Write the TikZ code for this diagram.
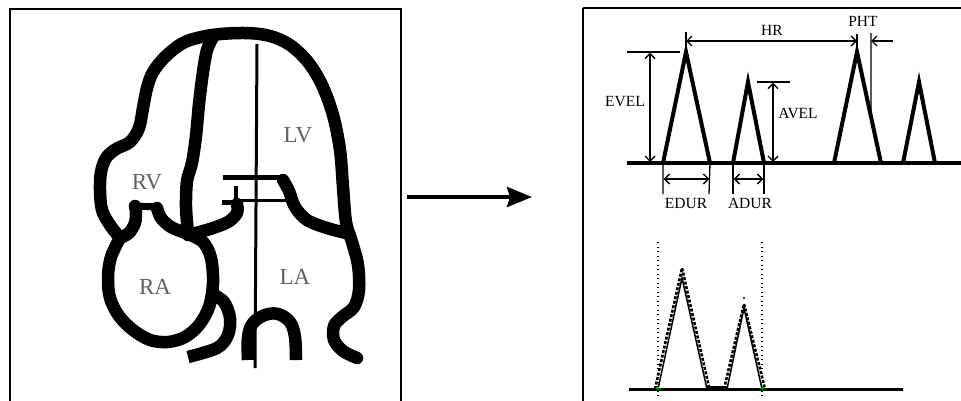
\documentclass[tikz,border=0pt]{standalone}
\usepackage{fontspec}
\setmainfont{Liberation Serif}
\usetikzlibrary{arrows.meta,calc}

\tikzset{
  wall/.style={line width=12.5pt, line cap=round, line join=round},
  wallcut/.style={line width=12.5pt, line cap=butt, line join=round},
  septline/.style={line width=3pt},
  frame/.style={line width=2.7pt},
  chamber/.style={text=black!62, font=\fontsize{23}{23}\selectfont, inner sep=0pt},
  lbl/.style={font=\fontsize{15.5}{16}\selectfont, inner sep=0pt},
  peak/.style={line width=4pt, line join=miter, line cap=butt},
  dim/.style={line width=1.3pt},
  barb/.tip={Straight Barb[length=5pt,width=10pt,line width=1.3pt]},
  trace/.style={line width=1.5pt, line join=miter},
  tracedash/.style={line width=2.6pt, dash pattern=on 3pt off 1.6pt, line join=miter},
  guide/.style={line width=1.4pt, dash pattern=on 1pt off 3.5pt},
  gatemark/.style={green!55!black, line width=0.9pt}
}

\begin{document}
\begin{tikzpicture}[x=1pt,y=-1pt]
\useasboundingbox (0,0) rectangle (961,400);
\clip (0,0) rectangle (961,400);
\fill[white] (0,0) rectangle (961,400);

% ---------- left panel: four-chamber view ----------
\draw[frame] (10,9) -- (401,9) -- (401,420) -- (10,420) -- cycle;

% right-ventricle free wall, apex and left-ventricle / left-atrium outer wall
\draw[wall] plot[smooth, tension=0.55] coordinates {
  (120,238) (110,225) (102,210) (100,190) (101,172) (106,158) (116,149)
  (130,142) (139,128) (143,108) (147,88) (153,72) (166,56) (185,42)
  (212,35) (245,33) (270,36) (290,45) (308,62) (322,85) (333,115)
  (340,150) (343,187) (346,222) (352,242) (358,265) (359,290) (354,307)
  (342,317) (334,326) (334,340) (343,351) (357,358)};

% interventricular septum
\draw[wall] plot[smooth, tension=0.5] coordinates {
  (213,37) (207,50) (203,72) (199,104) (196,136) (192,163) (187,181)
  (186,207) (188,233)};

% tricuspid cup
\draw[wall] plot[smooth, tension=0.5] coordinates {
  (120,238) (129,233) (135,223) (136,212) (135,206)};
\draw[line width=7pt] (133,206) -- (160,207);
\draw[wall] plot[smooth, tension=0.5] coordinates {
  (157,208) (161,218) (171,227) (188,234)};

% right atrium
\draw[wall] plot[smooth, tension=0.55] coordinates {
  (188,234) (203,242) (211,258) (213,283) (209,307) (199,325) (185,337)
  (168,342) (150,340) (133,330) (119,316) (110,298) (108,277) (111,257)
  (120,238)};

% vena cava stub below the right atrium
\draw[wallcut] plot[smooth, tension=0.55] coordinates {
  (211,293) (224,302) (230,318) (228,335) (217,348) (188,357)};

% anterior mitral leaflet
\draw[wall] plot[smooth, tension=0.55] coordinates {
  (188,235) (210,229) (228,222) (237,213) (237,204)};
\draw[line width=5pt] (222,202) -- (239,202);
\draw[line width=4pt] (236,186) -- (236,203);

% mitral annulus (sample gate)
\draw[line width=5pt] (223,177.5) -- (285,177.5);
\draw[line width=3pt] (236,200.5) -- (286,200.5);

% posterior mitral leaflet
\draw[wall] plot[smooth, tension=0.55] coordinates {
  (283,180) (289,191) (295,207) (307,220) (327,228) (346,233)};

% pulmonary vein arch
\draw[wallcut] plot[smooth, tension=0.6] coordinates {
  (248,360) (248,337) (253,323) (265,315) (278,314) (290,322) (295,337) (296,360)};

% scan line
\draw[septline] (257,44) -- (255,368);

\node[chamber] (rv) at (147,182) {RV};
\node[chamber] (lv) at (298,135) {LV};
\node[chamber] (ra) at (155,287) {RA};
\node[chamber] (la) at (295,277) {LA};

% ---------- transition arrow ----------
\coordinate (arrowfrom) at (407,197);
\coordinate (arrowto) at (532,197);
\draw[line width=4pt, -{Stealth[length=25pt,width=20pt,inset=3pt]}] (arrowfrom) -- (arrowto);

% ---------- right panel: Doppler schematics ----------
\draw[frame] (583,8) -- (970,8) (583,8) -- (583,420);

% idealised mitral inflow pattern
\coordinate (e1l) at (663,163); \coordinate (e1) at (686,52); \coordinate (e1r) at (710,163);
\coordinate (a1l) at (733,163); \coordinate (a1) at (748,82); \coordinate (a1r) at (764,163);
\coordinate (e2l) at (834,163); \coordinate (e2) at (857,52); \coordinate (e2r) at (881,163);
\coordinate (a2l) at (903,163); \coordinate (a2) at (919,82); \coordinate (a2r) at (935,163);

\draw[peak] (627,163) -- (962,163);
\draw[peak] (e1l) -- (e1) -- (e1r);
\draw[peak] (a1l) -- (a1) -- (a1r);
\draw[peak] (e2l) -- (e2) -- (e2r);
\draw[peak] (a2l) -- (a2) -- (a2r);

% EVEL
\draw[dim] (627,52) -- (680,52);
\draw[dim, barb-barb] (650,52.7) -- (650,162);
\node[lbl] (evel) at (625,102) {EVEL};

% AVEL
\draw[dim] (757,82) -- (790,82);
\draw[dim, barb-barb] (773,82.7) -- (773,162);
\node[lbl] (avel) at (798,113) {AVEL};

% HR
\draw[dim] (686,32) -- (e1);
\draw[dim] (857,34) -- (e2);
\draw[dim, barb-barb] (686,41) -- (857,41);
\node[lbl] (hr) at (772,30) {HR};

% PHT
\coordinate (pht) at ($(e2)!0.583!(e2r)$);
\draw[dim] (871,33) -- (pht);
\draw[dim, barb-] (871,41) -- (893,41);
\node[lbl] (phtlbl) at (863,21) {PHT};

% EDUR / ADUR
\draw[dim] (e1l) -- (663,194) (e1r) -- (709,194);
\draw[dim, barb-barb] (663.7,179) -- (709.3,179);
\node[lbl] (edur) at (686,203) {EDUR};
\draw[dim] (a1l) -- (733,194) (a1r) -- (764,194);
\draw[dim, barb-barb] (733.7,179) -- (763.3,179);
\node[lbl] (adur) at (750,203) {ADUR};

% traced spectrum with gate markers
\draw[line width=2.5pt] (629,389.3) -- (903,389.3);
\draw[guide] (658,242) -- (658,398);
\draw[guide] (762,242) -- (762,398);
\draw[line width=3.5pt] (706,388) -- (727,388);
\draw[tracedash] (655,389) -- (682,268) -- (709.5,389);
\draw[trace] (658,389) -- (682,278) -- (707,389);
\draw[tracedash] (724,389) -- (744,304) -- (765,389);
\draw[trace] (727,389) -- (744,308) -- (762,389);
\fill (744,298) circle (1.2pt);
\draw[gatemark] (655.5,388) -- (660.5,388) (658,385.5) -- (658,390.5);
\draw[gatemark] (759.5,388) -- (764.5,388) (762,385.5) -- (762,390.5);
\end{tikzpicture}
\end{document}
